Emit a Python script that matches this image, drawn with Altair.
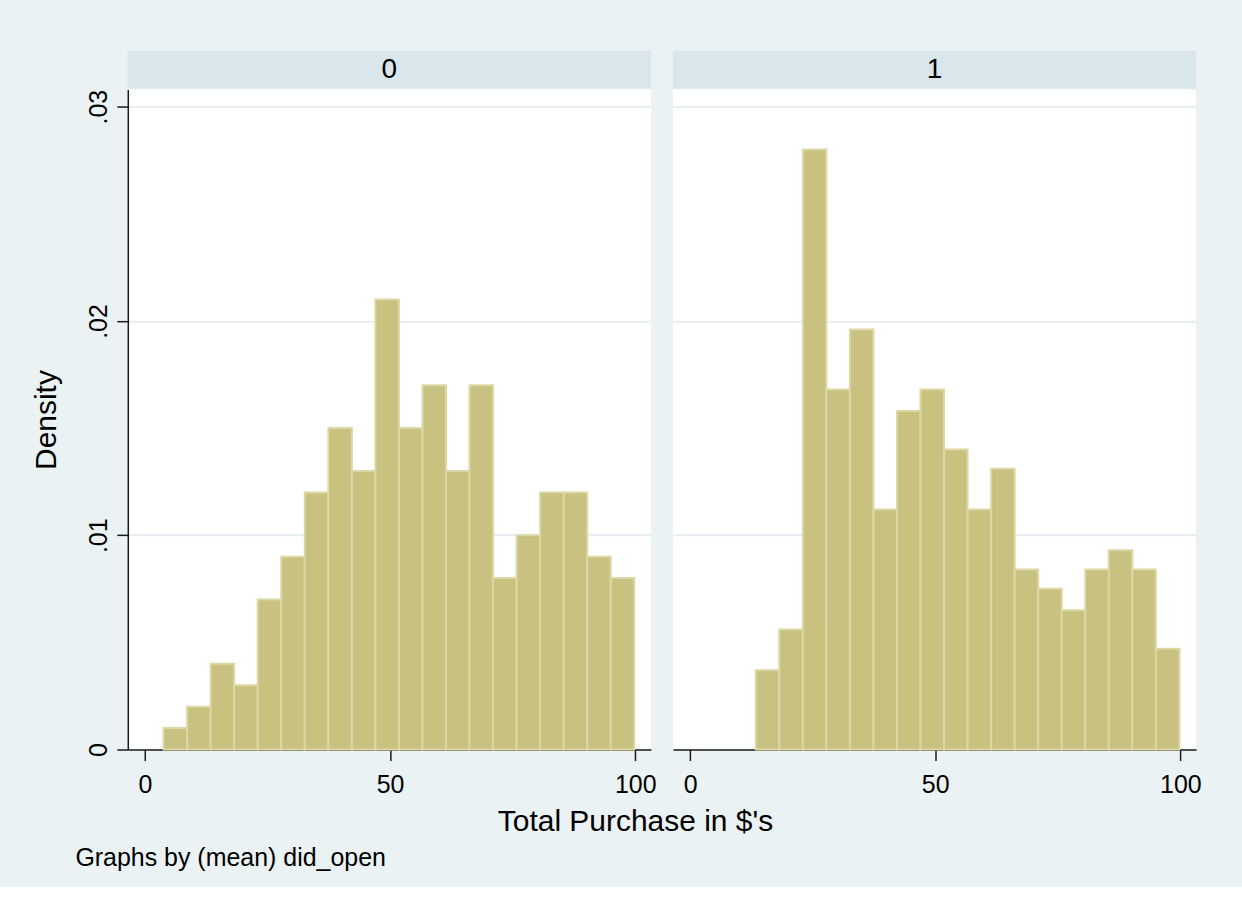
import altair as alt
import pandas as pd

# ---- data ----
bin_width = 4.8
panel_labels = ["0", "1"]

left0 = [3.8, 8.6, 13.4, 18.2, 23.0, 27.8, 32.6, 37.4, 42.2, 47.0,
         51.8, 56.6, 61.4, 66.2, 71.0, 75.8, 80.6, 85.4, 90.2, 95.0]
dens0 = [0.001, 0.002, 0.004, 0.003, 0.007, 0.009, 0.012, 0.015, 0.013, 0.021,
         0.015, 0.017, 0.013, 0.017, 0.008, 0.010, 0.012, 0.012, 0.009, 0.008]

left1 = [13.4, 18.2, 23.0, 27.8, 32.6, 37.4, 42.2, 47.0, 51.8,
         56.6, 61.4, 66.2, 71.0, 75.8, 80.6, 85.4, 90.2, 95.0]
dens1 = [0.0037, 0.0056, 0.0280, 0.0168, 0.0196, 0.0112, 0.0158, 0.0168, 0.0140,
         0.0112, 0.0131, 0.0084, 0.0075, 0.0065, 0.0084, 0.0093, 0.0084, 0.0047]

y_ticks = [0, 0.01, 0.02, 0.03]
x_ticks = [0, 50, 100]

# ---- styling ----
W, H = 524, 661
X_DOMAIN = [-3.5, 103.2]
Y_DOMAIN = [0, 0.0308]
BG = "#EAF2F3"
STRIP = "#D9E6EB"
FILL = "#C9C17F"
EDGE = "#DCD8A6"
GRID = "#E6EEF1"
AXC = "#1a1a1a"
FONT = "Liberation Sans"


def panel(lefts, dens, label, first):
    df = pd.DataFrame({"start": lefts, "density": dens})
    df["end"] = df["start"] + bin_width

    strip_df = pd.DataFrame({"label": [label]})
    strip = alt.Chart(strip_df).mark_rect(color=STRIP).encode(
        x=alt.value(0), x2=alt.value(W), y=alt.value(-39), y2=alt.value(-1)
    )
    strip_txt = alt.Chart(strip_df).mark_text(
        font=FONT, fontSize=28, color="#000", align="center", baseline="middle"
    ).encode(x=alt.value(W / 2), y=alt.value(-20), text="label:N")

    common_x = dict(values=x_ticks, grid=False, labelFont=FONT, labelFontSize=25,
                    labelPadding=12, labelFlush=False, labelOverlap=False,
                    tickSize=11, tickColor=AXC, tickWidth=1.5,
                    domainColor=AXC, domainWidth=1.5, labelColor="#000",
                    titleFont=FONT, titleFontWeight="normal", titleColor="#000",
                    titleBaseline="middle")
    if first:
        xaxis = alt.Axis(title="Graphs by (mean) did_open", titleFontSize=25,
                         titleX=-53, titleY=108, titleAlign="left", **common_x)
        yaxis = alt.Axis(values=y_ticks, title="Density",
                         labelExpr="datum.value == 0 ? '0' : substring(format(datum.value, '.2f'), 1)",
                         labelAngle=270, labelAlign="center", labelBaseline="alphabetic",
                         labelFont=FONT, labelFontSize=25, labelPadding=10,
                         labelFlush=False, labelOverlap=False, labelColor="#000",
                         tickSize=11, tickColor=AXC, tickWidth=1.5,
                         domainColor=AXC, domainWidth=1.5,
                         grid=True, gridColor=GRID, gridWidth=2,
                         titleFont=FONT, titleFontSize=30, titleFontWeight="normal",
                         titleColor="#000", titleAngle=270, titleX=-81, titleY=H / 2,
                         titleAlign="center", titleBaseline="middle")
    else:
        xaxis = alt.Axis(title="Total Purchase in $'s", titleFontSize=30,
                         titleX=-38, titleY=72, titleAlign="center", **common_x)
        yaxis = alt.Axis(values=y_ticks, title=None, labels=False, ticks=False,
                         domain=False, grid=True, gridColor=GRID, gridWidth=2)

    bars = alt.Chart(df).mark_bar(fill=FILL, stroke=EDGE, strokeWidth=2).encode(
        x=alt.X("start:Q", scale=alt.Scale(domain=X_DOMAIN, nice=False, zero=False), axis=xaxis),
        x2="end:Q",
        y=alt.Y("density:Q", scale=alt.Scale(domain=Y_DOMAIN, nice=False, zero=True), axis=yaxis),
        y2=alt.datum(0),
    )
    return alt.layer(strip, strip_txt, bars).properties(width=W, height=H)


chart = alt.hconcat(
    panel(left0, dens0, panel_labels[0], True),
    panel(left1, dens1, panel_labels[1], False),
    spacing=22,
    bounds="flush",
).properties(
    background=BG,
    padding={"left": 32, "top": 50, "right": 40, "bottom": 16},
).configure_view(fill="white", stroke=None)

chart.save("out.html", embed_options={"renderer": "svg", "actions": False})
